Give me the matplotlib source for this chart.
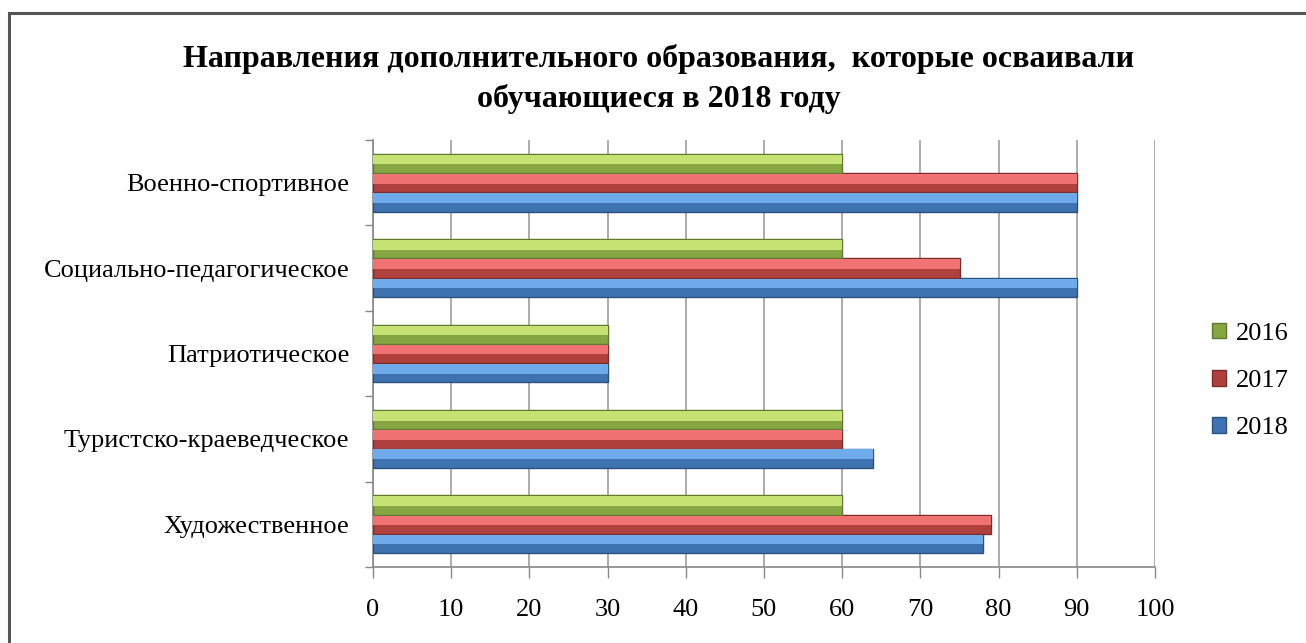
import matplotlib
matplotlib.use("Agg")
import matplotlib.pyplot as plt
import numpy as np
from matplotlib.patches import Rectangle

plt.rcParams['font.family'] = ['Liberation Serif', 'DejaVu Serif']

categories = ["Художественное", "Туристско-краеведческое", "Патриотическое",
              "Социально-педагогическое", "Военно-спортивное"]
years = ["2018", "2017", "2016"]
values_2018 = [78, 64, 30, 90, 90]
values_2017 = [79, 60, 30, 75, 90]
values_2016 = [60, 60, 30, 60, 60]
xticks = [0, 10, 20, 30, 40, 50, 60, 70, 80, 90, 100]
title = "Направления дополнительного образования,  которые осваивали\nобучающиеся в 2018 году"

series = [values_2018, values_2017, values_2016]
base_colors = ["#3F72B0", "#B0403E", "#86A644"]
light_colors = ["#6FAAEB", "#F07272", "#C6E272"]
edge_colors = ["#2B527F", "#7E2C2A", "#5F7A2E"]

fig = plt.figure(figsize=(13.06, 6.43), dpi=100)
ax = fig.add_axes([373/1306, 1-567/643, (1155-373)/1306, (567-140)/643])

# outer frame
fig.patches.append(Rectangle((9/1306, -0.05), 1.1, 1-13/643+0.05, transform=fig.transFigure,
                             fill=False, edgecolor="#555555", linewidth=2.2, zorder=0))

y = np.arange(len(categories))
h = 0.225
offsets = [-h, 0, h]
handles = []
for vals, off, bc, lc, ec, yr in zip(series, offsets, base_colors, light_colors, edge_colors, years):
    pos = y + off
    b = ax.barh(pos, vals, height=h, color=bc, edgecolor=ec, linewidth=1.0, zorder=3, label=yr)
    # bevel highlight on the upper half
    ax.barh(pos + h*0.2, vals, height=h*0.5, color=lc, linewidth=0, zorder=4)
    handles.append(b)

ax.set_xlim(0, 100)
ax.set_ylim(-0.5, len(categories) - 0.5)
ax.set_xticks(xticks)
ax.set_xticklabels([str(t) for t in xticks], fontsize=19)
ax.tick_params(axis='x', length=8, width=1, color="#888888", pad=15, direction='out')

ax.set_yticks(np.arange(-0.5, len(categories)), minor=False)
ax.set_yticklabels([])
ax.set_yticks(y, minor=True)
ax.set_yticklabels(categories, minor=True, fontsize=19)
ax.tick_params(axis='y', which='major', length=6, width=1, color="#888888", direction='out')
ax.tick_params(axis='y', which='minor', length=0, pad=17)

ax.grid(axis='x', color="#A6A6A6", linewidth=1.3, zorder=0)
ax.set_axisbelow(True)
for s in ['top', 'right']:
    ax.spines[s].set_visible(False)
for s in ['left', 'bottom']:
    ax.spines[s].set_color("#888888")
    ax.spines[s].set_linewidth(1.2)

fig.text(659/1306, 1-79/643, title, ha='center', va='center', fontsize=23,
         fontweight='bold', linespacing=1.4)

leg = fig.legend(handles[::-1], years[::-1], loc='center left',
                 bbox_to_anchor=(1188/1306, 1-381/643), frameon=False,
                 fontsize=19, handlelength=0.55, handleheight=0.55, labelspacing=0.95,
                 handletextpad=0.35)

fig.savefig("out.png", dpi=100, facecolor="white")
